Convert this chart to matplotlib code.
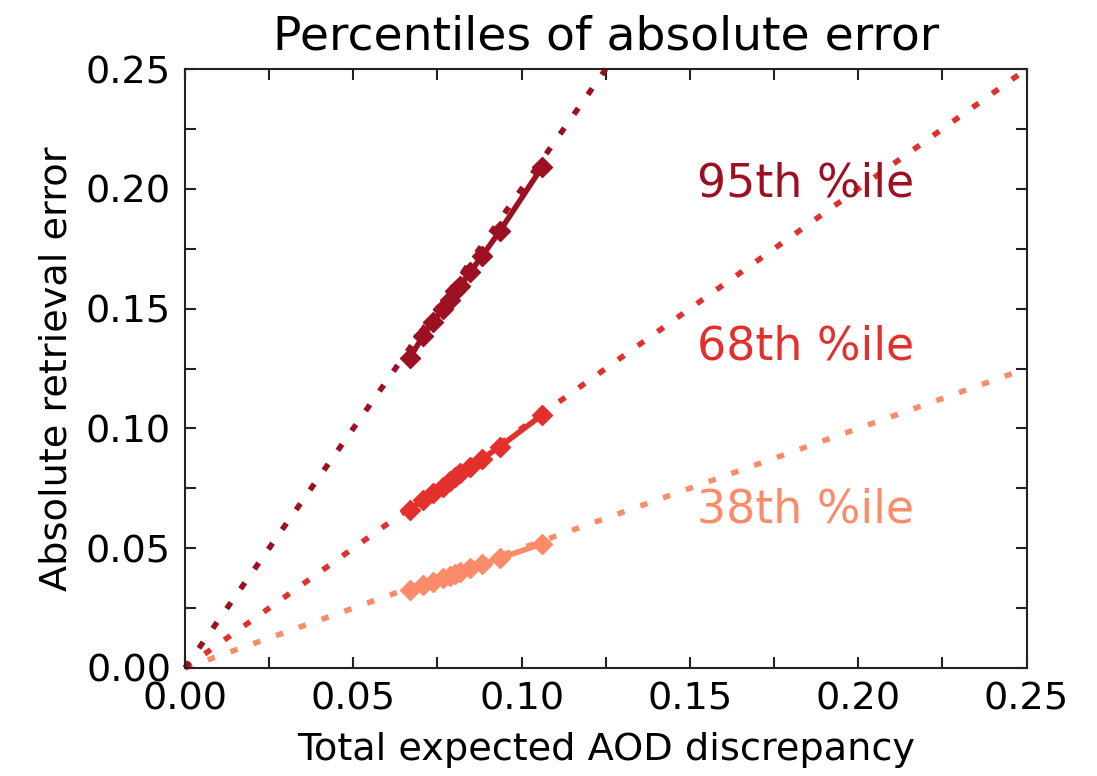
import numpy as np
import matplotlib; matplotlib.use("Agg"); import matplotlib.pyplot as plt
from matplotlib.ticker import MultipleLocator, FormatStrFormatter

plt.rcParams['font.family'] = ['DejaVu Sans']

C95 = "#9c1022"; C68 = "#e3302c"; C38 = "#fc8c69"

# expected AOD discrepancy (x) and percentile values of absolute error
disc = [0.0668, 0.0707, 0.0736, 0.0766, 0.0787, 0.0802, 0.0817, 0.0846, 0.0882, 0.0935, 0.1060]
p95 = [0.1296, 0.1384, 0.1446, 0.1497, 0.1538, 0.1572, 0.1593, 0.1651, 0.1718, 0.1823, 0.2090]
p68 = [0.0661, 0.0702, 0.0730, 0.0755, 0.0780, 0.0798, 0.0812, 0.0840, 0.0872, 0.0924, 0.1055]
p38 = [0.0326, 0.0345, 0.0360, 0.0375, 0.0385, 0.0392, 0.0402, 0.0418, 0.0432, 0.0458, 0.0518]
# reference lines: error = slope * discrepancy
slopes = [0.5, 1.0, 2.0]
labels = ["38th %ile", "68th %ile", "95th %ile"]
label_y = [0.066, 0.1338, 0.2019]

fig = plt.figure(figsize=(10.97, 7.76), dpi=100)
ax = fig.add_axes([0.1686, 0.1392, 0.7672, 0.7718])

cols = [C38, C68, C95]
for k, c in zip(slopes, cols):
    xe = min(0.25, 0.25 / k)
    ax.plot([0, xe], [0, k * xe], color=c, lw=4, dashes=(1.35, 3.0),
            dash_capstyle='butt', clip_on=False, zorder=2)
for yv, c in zip([p38, p68, p95], cols):
    ax.plot(disc, yv, color=c, lw=4, marker='D', ms=10, mec=c, mfc=c, zorder=3)
for t, yl, c in zip(labels, label_y, cols):
    ax.text(0.152, yl, t, color=c, fontsize=33, va='center', ha='left')

ax.set_xlim(0, 0.25); ax.set_ylim(0, 0.25)
for a in (ax.xaxis, ax.yaxis):
    a.set_major_locator(MultipleLocator(0.05))
    a.set_minor_locator(MultipleLocator(0.025))
    a.set_major_formatter(FormatStrFormatter('%.2f'))
ax.tick_params(which='both', direction='in', top=True, right=True, length=8, width=1.5,
               color='#222222', labelsize=27.5, pad=10)
for s in ax.spines.values():
    s.set_linewidth(1.5); s.set_color('#222222')

ax.set_title("Percentiles of absolute error", fontsize=34, pad=14)
ax.set_xlabel("Total expected AOD discrepancy", fontsize=27.5, labelpad=10)
ax.set_ylabel("Absolute retrieval error", fontsize=27.5, labelpad=8)

fig.savefig("out.png", dpi=100)
